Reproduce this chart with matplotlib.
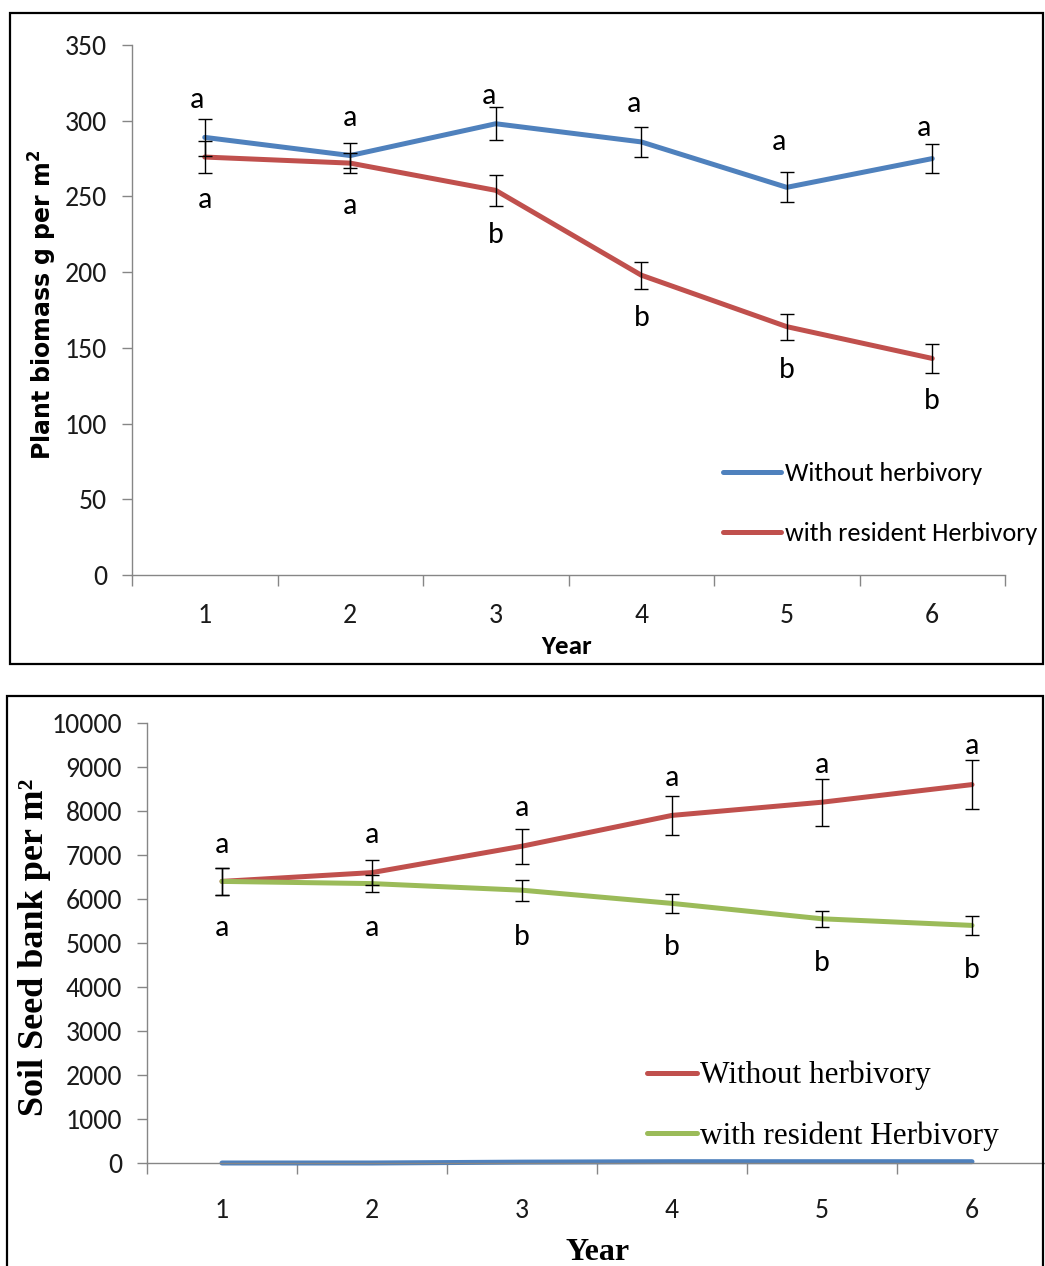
import matplotlib
matplotlib.use("Agg")
import matplotlib.pyplot as plt
from matplotlib.patches import Rectangle
from matplotlib.ticker import FixedLocator, NullFormatter
from matplotlib import font_manager

# ---------------- data ----------------
years = [1, 2, 3, 4, 5, 6]
year_labels = ["1", "2", "3", "4", "5", "6"]

# Top panel: plant biomass (g per m2)
bio_without = [289, 277, 298, 286, 256, 275]
bio_without_err = [12, 8.5, 11, 10, 10, 9.5]
bio_with = [276, 272, 254, 198, 164, 143]
bio_with_err = [10.5, 6.5, 10, 9, 8.5, 9.5]
bio_upper_letters = ["a", "a", "a", "a", "a", "a"]
bio_lower_letters = ["a", "a", "b", "b", "b", "b"]
bio_yticks = [0, 50, 100, 150, 200, 250, 300, 350]

# Bottom panel: soil seed bank (per m2)
seed_without = [6400, 6600, 7200, 7900, 8200, 8600]
seed_without_err = [300, 280, 400, 450, 530, 550]
seed_with = [6400, 6350, 6200, 5900, 5550, 5400]
seed_with_err = [300, 200, 240, 220, 180, 220]
seed_extra = [0, 0, 20, 30, 30, 30]
seed_upper_letters = ["a", "a", "a", "a", "a", "a"]
seed_lower_letters = ["a", "a", "b", "b", "b", "b"]
seed_yticks = list(range(0, 10001, 1000))

# letter placements (data units)
bio_upper_y = [313.7, 301.8, 316.4, 311, 286, 295]
bio_upper_dx = [-0.055, 0, -0.05, -0.05, -0.055, -0.055]
bio_lower_y = [247.7, 243.7, 224.6, 169.7, 135.4, 114.9]
seed_upper_y = [7230, 7450, 8070, 8750, 9045, 9480]
seed_lower_y = [5340, 5340, 5140, 4910, 4545, 4390]

BLUE = "#4F81BD"
RED = "#C0504D"
GREEN = "#9BBB59"
GRAY = "#868686"

W, H = 1045, 1266
fig = plt.figure(figsize=(W / 100, H / 100), dpi=100)

_installed = {f.name for f in font_manager.fontManager.ttflist}
if "Carlito" in _installed:
    SANS = ["Carlito", "DejaVu Sans"]
    SZ = 1.08
elif "Liberation Sans Narrow" in _installed:
    SANS = ["Liberation Sans Narrow", "DejaVu Sans"]
    SZ = 1.05
else:
    SANS = ["Lato", "DejaVu Sans"]
    SZ = 1.0
SERIF = ["Liberation Serif", "DejaVu Serif"]


def fx(px):
    return px / W


def fy(py):
    return 1 - py / H


# panel borders
fig.patches.append(Rectangle((fx(10), fy(664)), fx(1043) - fx(10), fy(13) - fy(664),
                             transform=fig.transFigure, fill=False, lw=1.6, ec="black"))
fig.patches.append(Rectangle((fx(7), fy(1275)), fx(1043) - fx(7), fy(696) - fy(1275),
                             transform=fig.transFigure, fill=False, lw=1.6, ec="black"))


def style_axes(ax, xpad):
    for s in ["top", "right"]:
        ax.spines[s].set_visible(False)
    for s in ["left", "bottom"]:
        ax.spines[s].set_color(GRAY)
        ax.spines[s].set_linewidth(1.0)
    ax.set_xlim(0.5, 6.5)
    ax.xaxis.set_major_locator(FixedLocator(years))
    ax.set_xticklabels(year_labels)
    ax.xaxis.set_minor_locator(FixedLocator([0.5 + i for i in range(7)]))
    ax.xaxis.set_minor_formatter(NullFormatter())
    ax.tick_params(axis="x", which="major", length=0, pad=xpad)
    ax.tick_params(axis="x", which="minor", length=8, color=GRAY, width=1, direction="out")
    ax.tick_params(axis="y", length=7, color=GRAY, width=1, direction="out", pad=11)
    for lab in ax.get_xticklabels() + ax.get_yticklabels():
        lab.set_fontfamily(SANS)
        lab.set_fontsize(18.5 * SZ)
        lab.set_color("#1a1a1a")


# ---------------- top panel ----------------
ax1 = fig.add_axes([fx(132), fy(575), fx(1005) - fx(132), fy(45) - fy(575)])
ax1.set_ylim(0, 350)
ax1.set_yticks(bio_yticks)
l1, = ax1.plot(years, bio_without, color=BLUE, lw=3.6, solid_capstyle="round", zorder=2)
l2, = ax1.plot(years, bio_with, color=RED, lw=3.6, solid_capstyle="round", zorder=2)
ax1.errorbar(years, bio_without, yerr=bio_without_err, fmt="none", ecolor="black",
             elinewidth=1, capsize=5, capthick=1, zorder=3)
ax1.errorbar(years, bio_with, yerr=bio_with_err, fmt="none", ecolor="black",
             elinewidth=1, capsize=5, capthick=1, zorder=3)
style_axes(ax1, 20)
for x, dx, y, t in zip(years, bio_upper_dx, bio_upper_y, bio_upper_letters):
    ax1.text(x + dx, y, t, ha="center", va="center", fontsize=20 * SZ, family=SANS)
for x, y, t in zip(years, bio_lower_y, bio_lower_letters):
    ax1.text(x, y, t, ha="center", va="center", fontsize=20 * SZ, family=SANS)

fig.text(fx(567), fy(646), "Year", ha="center", va="center", fontsize=18 * SZ,
         fontweight="bold", family=SANS)
fig.text(fx(43), fy(305), "Plant biomass g per m$^\\mathbf{2}$", ha="center", va="center",
         rotation=90, fontsize=17, fontweight="bold", family=["DejaVu Sans"])

leg1 = ax1.legend([l1, l2], ["Without herbivory", "with resident Herbivory"],
                  loc="upper left", bbox_to_anchor=(fx(723), fy(462)),
                  bbox_transform=fig.transFigure, frameon=False, borderpad=0,
                  borderaxespad=0, handlelength=2.2, handletextpad=0.15,
                  labelspacing=1.4, prop={"family": SANS, "size": 17.5 * SZ})

# ---------------- bottom panel ----------------
ax2 = fig.add_axes([fx(147), fy(1163), fx(1047) - fx(147), fy(723) - fy(1163)])
ax2.set_ylim(0, 10000)
ax2.set_yticks(seed_yticks)
m1, = ax2.plot(years, seed_without, color=RED, lw=3.6, solid_capstyle="round", zorder=2)
m2, = ax2.plot(years, seed_with, color=GREEN, lw=3.6, solid_capstyle="round", zorder=2)
ax2.plot(years, seed_extra, color=BLUE, lw=3.6, solid_capstyle="round", zorder=2, clip_on=False)
ax2.errorbar(years, seed_without, yerr=seed_without_err, fmt="none", ecolor="black",
             elinewidth=1, capsize=5, capthick=1, zorder=3)
ax2.errorbar(years, seed_with, yerr=seed_with_err, fmt="none", ecolor="black",
             elinewidth=1, capsize=5, capthick=1, zorder=3)
style_axes(ax2, 25)
for x, y, t in zip(years, seed_upper_y, seed_upper_letters):
    ax2.text(x, y, t, ha="center", va="center", fontsize=20 * SZ, family=SANS)
for x, y, t in zip(years, seed_lower_y, seed_lower_letters):
    ax2.text(x, y, t, ha="center", va="center", fontsize=20 * SZ, family=SANS)

fig.text(fx(598), fy(1253), "Year", ha="center", va="center", fontsize=23,
         fontweight="bold", family=SERIF)
fig.text(fx(35), fy(947), "Soil Seed bank per m\u00b2", ha="center", va="center",
         rotation=90, fontsize=26, fontweight="bold", family=SERIF)

leg2 = ax2.legend([m1, m2], ["Without herbivory", "with resident Herbivory"],
                  loc="upper left", bbox_to_anchor=(fx(647), fy(1061)),
                  bbox_transform=fig.transFigure, frameon=False, borderpad=0,
                  borderaxespad=0, handlelength=1.6, handletextpad=0.1,
                  labelspacing=1.0, prop={"family": SERIF, "size": 22.5})

fig.savefig("out.png", dpi=100)
